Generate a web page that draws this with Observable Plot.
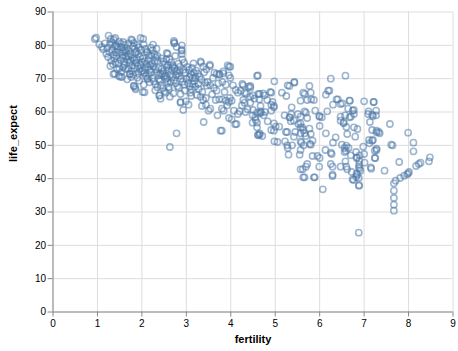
<!DOCTYPE html>
<html>
<head>
<meta charset="utf-8">
<script src="https://cdn.jsdelivr.net/npm/d3@7"></script>
<script src="https://cdn.jsdelivr.net/npm/@observablehq/plot@0.6"></script>
<style>
  html, body { margin: 0; padding: 0; background: #fff; }
  #chart svg { display: block; }
</style>
</head>
<body>
<div id="chart"></div>
<script>
// Axis ticks
const xTicks = [0, 1, 2, 3, 4, 5, 6, 7, 8, 9];
const yTicks = [0, 10, 20, 30, 40, 50, 60, 70, 80, 90];
const xTitle = "fertility";
const yTitle = "life_expect";

// [fertility, life_expect] pairs, grouped by fertility range
const fertilityBelow2 = [
  [0.94,81.9],[1.04,80.3],[0.97,82.3],[1.1,79.5],[1.13,78.8],[1.17,80.6],[1.2,77.5],
  [1.25,82.9],[1.3,81.9],[1.37,81.7],[1.22,79.2],[1.28,80.4],[1.33,78.6],[1.36,77.2],[1.24,76.5],
  [1.31,75.4],[1.39,79.8],[1.35,74.3],[1.29,73.8],[1.39,71.5],[1.36,71.4],[1.27,78.0],[1.38,76.1],
  [1.33,80.9],[1.4,82.2],
  [1.48,81.1],[1.42,80.0],[1.45,78.9],[1.5,77.8],[1.55,79.4],[1.43,76.8],[1.52,75.6],[1.47,74.5],
  [1.58,73.4],[1.44,72.8],[1.48,70.9],[1.55,70.5],[1.51,70.6],[1.57,76.3],[1.59,78.1],[1.41,74.9],
  [1.53,80.5],[1.46,79.6],[1.56,77.0],[1.6,75.1],[1.49,73.1],[1.54,72.0],[1.42,77.9],[1.58,81.0],
  [1.78,81.5],[1.76,81.8],[1.62,80.2],[1.66,79.1],[1.7,78.3],[1.74,77.4],[1.64,76.6],[1.68,75.7],
  [1.72,74.8],[1.78,73.9],[1.63,72.9],[1.73,71.4],[1.76,70.5],[1.67,69.8],[1.8,79.7],[1.71,80.6],
  [1.65,77.9],[1.79,76.2],[1.75,75.3],[1.61,74.1],[1.69,73.0],[1.77,72.3],[1.62,78.6],[1.7,76.9],
  [1.82,80.7],[1.97,82.2],[1.85,67.3],[1.82,67.8],[1.86,66.8],[1.84,79.0],[1.88,78.2],[1.92,77.3],
  [1.96,76.5],[1.83,75.5],[1.87,74.7],[1.91,73.8],[1.95,72.9],[1.99,72.1],[1.81,71.2],[1.9,70.3],
  [1.94,69.4],[1.89,80.1],[1.93,79.4],[1.98,78.6],[1.85,77.7],[1.88,76.0],[1.97,74.1],[1.84,73.2],
  [1.92,71.6],[1.73,71.4],[1.82,67.8]
];

const fertility2to3 = [
  [2.0,75.0],[2.03,81.9],[2.06,65.9],[2.02,66.0],[2.04,80.3],[2.08,78.9],[2.12,77.8],[2.16,76.9],
  [2.02,76.1],[2.06,75.2],[2.1,74.4],[2.14,73.5],[2.18,72.6],[2.05,71.7],[2.09,70.8],[2.13,69.9],
  [2.17,68.9],[2.2,79.3],[2.11,78.1],[2.15,75.6],[2.19,74.2],[2.07,73.0],[2.01,72.4],[2.16,71.2],
  [2.12,70.1],[2.2,77.0],[2.04,68.2],
  [2.24,78.5],[2.28,77.4],[2.32,76.3],[2.36,75.4],[2.22,74.6],[2.26,73.7],[2.3,72.8],[2.34,71.9],
  [2.38,71.0],[2.23,70.1],[2.27,69.2],[2.31,68.3],[2.35,67.4],[2.39,64.9],[2.4,65.0],[2.25,80.2],
  [2.33,79.0],[2.37,73.2],[2.29,75.1],[2.21,72.0],[2.38,69.8],[2.3,66.5],[2.35,76.8],
  [2.42,71.4],[2.56,77.7],[2.58,77.4],[2.54,65.8],[2.42,64.0],[2.44,76.1],[2.48,75.2],[2.52,74.3],
  [2.56,73.4],[2.6,72.5],[2.46,71.6],[2.5,70.7],[2.54,69.8],[2.58,68.9],[2.43,68.0],[2.47,67.1],
  [2.51,66.2],[2.55,75.8],[2.59,74.0],[2.45,73.0],[2.49,72.2],[2.53,71.0],[2.57,70.2],[2.41,69.3],
  [2.6,67.5],
  [2.73,80.8],[2.72,81.3],[2.73,80.6],[2.78,79.5],[2.63,64.6],[2.63,49.5],[2.78,53.6],[2.62,75.9],
  [2.66,74.9],[2.7,74.0],[2.74,73.1],[2.78,72.2],[2.64,71.3],[2.68,70.4],[2.72,69.5],[2.76,68.6],
  [2.8,67.7],[2.61,66.8],[2.69,73.5],[2.77,71.0],[2.65,69.0],[2.71,65.6],[2.75,76.8],[2.67,72.6],
  [2.9,80.0],[2.9,78.6],[2.9,77.4],[2.89,78.4],[2.91,75.8],[2.87,65.4],[2.87,63.0],[2.87,62.8],
  [2.93,60.6],[2.99,63.2],[2.82,74.5],[2.86,73.6],[2.94,72.7],[2.98,71.8],[2.84,70.9],[2.88,70.0],
  [2.92,69.1],[2.96,68.2],[2.83,67.3],[2.97,66.4],[2.85,72.3],[2.95,74.8],[2.81,71.5]
];

const fertility3to5 = [
  [3.05,62.2],[3.09,65.8],[3.11,64.8],[3.14,68.4],[3.17,71.8],[3.2,70.4],[3.2,67.6],[3.02,73.5],
  [3.06,72.6],[3.1,71.3],[3.14,70.2],[3.18,69.3],[3.04,68.6],[3.08,67.7],[3.12,66.8],[3.16,74.6],
  [3.0,69.9],[3.13,73.2],[3.07,70.5],
  [3.32,75.2],[3.38,73.6],[3.32,64.6],[3.38,63.6],[3.44,64.2],[3.35,61.8],[3.44,62.2],[3.39,57.0],
  [3.48,69.0],[3.22,72.4],[3.26,71.5],[3.3,70.6],[3.34,69.7],[3.42,68.8],[3.46,67.9],[3.28,66.9],
  [3.36,66.0],[3.24,65.1],[3.4,71.9],[3.45,72.8],[3.27,68.4],[3.33,74.8],[3.53,74.2],
  [3.53,73.8],[3.54,68.0],[3.54,61.0],[3.5,60.4],[3.68,71.4],[3.74,71.4],[3.83,71.6],[3.68,66.4],
  [3.66,63.6],[3.74,63.8],[3.81,63.8],[3.89,63.4],[3.8,61.0],[3.84,60.4],[3.81,69.0],[3.89,68.2],
  [3.93,74.0],[3.99,73.6],[3.96,71.0],[3.99,70.2],[3.98,64.2],[4.02,63.4],[4.07,60.4],[4.11,66.6],
  [4.16,65.8],[4.16,59.4],[4.2,60.2],[3.96,58.2],[4.02,57.8],[4.13,56.4],[3.77,54.4],[4.1,56.3],
  [3.6,70.2],[3.62,67.2],[3.72,68.6],[3.58,65.3],[3.86,66.0],[4.05,68.0],[3.92,62.0],[3.7,59.0],
  [3.63,71.8],[3.75,71.2],[3.83,72.2],[3.96,73.6],[3.96,63.0],[3.8,54.4],
  [4.26,68.4],[4.4,67.6],[4.44,67.8],[4.28,63.6],[4.31,62.8],[4.44,62.8],[4.64,63.8],[4.33,60.0],
  [4.38,60.8],[4.49,59.0],[4.56,57.6],[4.65,59.6],[4.49,56.8],[4.59,55.4],[4.65,53.6],[4.61,71.0],
  [4.59,70.8],[4.44,67.3],[4.5,65.0],[4.65,65.4],[4.76,65.0],[4.67,61.8],[4.68,59.8],[4.74,59.0],
  [4.55,58.4],[4.59,56.8],[4.62,53.0],[4.71,52.8],[4.35,65.5],[4.25,62.0],
  [4.22,66.4],[4.31,65.8],[4.28,68.0],[4.44,64.6],[4.53,64.0],[4.62,65.4],[4.73,65.6],[4.89,66.0],
  [4.82,63.6],[4.94,63.0],[4.97,61.8],[4.5,60.6],[4.59,59.8],[4.67,60.2],[4.77,60.0],[4.91,60.4],
  [4.61,53.2],[4.65,53.2],[4.97,56.6],[4.91,54.6],[4.98,69.2],[4.91,65.8],[4.91,62.2],[4.97,61.4],
  [4.83,57.2],[4.97,54.4],[4.98,51.2]
];

const fertility5to7 = [
  [5.32,67.8],[5.43,68.8],[5.77,67.8],[5.15,65.8],[5.63,65.8],[5.8,65.8],[6.19,66.4],[6.14,65.2],
  [5.25,64.8],[5.57,63.4],[5.81,63.8],[6.41,63.8],[6.47,62.4],[6.3,62.2],[5.37,61.4],[5.69,59.8],
  [5.9,60.4],[6.17,60.2],[5.36,59.4],[5.33,58.4],[5.99,58.8],[6.05,58.4],[6.47,58.6],[6.54,56.9],
  [5.01,55.6],[5.27,54.0],[5.45,54.0],[5.57,56.6],[5.63,54.6],[5.66,53.6],[6.0,55.8],[6.14,53.6],
  [5.22,51.2],[5.27,50.0],[5.59,50.8],[5.57,48.6],[5.78,50.4],[5.8,50.2],[6.3,50.8],[6.36,52.4],
  [6.5,50.2],[6.56,49.2],[5.3,47.2],[5.55,47.2],[5.84,46.8],[5.95,46.8],[6.0,46.2],[6.25,47.8],
  [5.72,44.4],[5.69,43.6],[5.99,43.6],[6.25,44.4],[5.57,42.8],[5.63,40.4],[5.89,40.4],[6.29,41.2],
  [6.47,43.6],[6.62,42.8],[6.07,36.8],
  [5.43,69.0],[6.25,70.0],[6.58,70.9],[6.22,66.4],[6.67,63.4],[6.38,63.8],[5.87,63.6],[6.0,58.6],
  [6.47,57.4],[6.54,56.6],[6.67,58.4],[6.74,60.4],[6.77,59.4],[5.57,58.6],[5.52,56.4],[5.61,55.4],
  [5.57,53.6],[5.8,53.4],[5.84,51.4],[5.64,50.0],[5.62,42.8],[5.87,40.4],[5.66,40.4],[6.13,48.6],
  [6.27,47.4],[6.29,43.6],[6.29,40.8],[6.59,48.4],[6.65,49.2],[6.7,47.0],[6.83,46.2],[6.89,45.4],
  [6.88,43.4],[6.92,42.4],[6.88,40.2],[6.89,38.0],[6.74,39.8],[6.85,41.2],
  [5.09,55.6],[5.21,59.0],[5.32,58.4],[5.35,57.2],[5.42,57.4],[5.51,59.4],[5.72,58.2],[5.66,60.2],
  [5.77,55.0],[5.69,52.8],[5.24,54.0],[5.42,52.6],[5.57,55.4],[5.05,51.0],[5.28,49.2],[5.38,50.0],
  [5.57,51.2],[5.28,68.0],[5.66,65.4],[5.72,63.6],
  [6.68,63.4],[6.51,62.6],[6.64,61.0],[6.77,60.6],[6.57,59.0],[6.7,58.6],[6.6,55.5],[6.77,55.4],
  [6.85,54.9],[6.62,53.4],[6.8,52.6],[6.6,49.9],[6.98,49.6],[6.56,48.0],[6.82,48.0],[7.0,47.4],
  [6.9,47.0],[6.84,46.4],[6.58,45.2],[6.6,43.6],[6.89,44.2],[6.9,43.0],[6.72,42.0],[6.83,41.5],
  [6.82,40.5],[6.76,39.6],[6.88,37.9],[6.88,23.8]
];

const fertilityAbove7 = [
  [7.0,63.2],[7.21,63.0],[7.22,63.0],[7.1,60.2],[7.18,59.2],[7.27,59.0],[7.13,57.0],[7.58,56.4],
  [7.18,54.6],[7.28,53.9],[7.35,53.6],[7.99,53.8],[7.11,51.6],[7.2,51.6],[8.11,50.8],[7.61,50.2],
  [7.28,48.6],[8.11,48.2],[7.24,46.2],[8.48,46.4],[8.46,45.2],[8.27,44.8],[8.23,44.4],[8.17,43.8],
  [7.79,45.0],[7.16,43.0],[7.46,42.4],[8.01,42.0],[7.99,41.6],[7.97,41.3],[7.9,40.9],[7.81,40.2],
  [7.71,39.4],[7.67,38.6],[7.67,36.4],[7.67,34.2],[7.67,32.2],[7.67,30.4],
  [7.09,59.4],[7.2,58.8],[7.64,50.0],[7.01,44.8],[7.15,43.4],[7.25,46.2],[7.28,49.0],[7.24,48.4],
  [7.18,51.4],[7.12,50.6],[7.28,54.4],[7.33,54.0],[7.27,60.4]
];

const groups = [fertilityBelow2, fertility2to3, fertility3to5, fertility5to7, fertilityAbove7];
const data = groups.flatMap(g => g.map(([fertility, life_expect]) => ({fertility, life_expect})));

const font = "'Liberation Sans', Arial, Helvetica, sans-serif";

const chart = Plot.plot({
  width: 458,
  height: 351,
  marginLeft: 52.5,
  marginRight: 5.5,
  marginTop: 11.5,
  marginBottom: 39.5,
  style: {fontFamily: font, fontSize: "10px", background: "#fff", color: "#000"},
  x: {domain: [0, 9]},
  y: {domain: [0, 90]},
  marks: [
    Plot.gridX(xTicks, {stroke: "#ddd", strokeOpacity: 1, strokeWidth: 1}),
    Plot.gridY(yTicks, {stroke: "#ddd", strokeOpacity: 1, strokeWidth: 1}),
    Plot.ruleY([0], {stroke: "#888", strokeWidth: 1}),
    Plot.ruleX([0], {stroke: "#888", strokeWidth: 1}),
    Plot.axisX(xTicks, {tickSize: 5, tickPadding: 3, stroke: "#888", fill: "#000", label: null, fontSize: 10}),
    Plot.axisY(yTicks, {tickSize: 5, tickPadding: 2, stroke: "#888", fill: "#000", label: null, fontSize: 10}),
    Plot.dot(data, {
      x: "fertility", y: "life_expect",
      r: 3.1, fill: "none", stroke: "#4c78a8", strokeWidth: 1.6, strokeOpacity: 0.55
    }),
    Plot.text([xTitle], {frameAnchor: "bottom", dy: 31, fontWeight: "bold", fontSize: 11, fill: "#000"}),
    Plot.text([yTitle], {frameAnchor: "left", dx: -40, rotate: -90, fontWeight: "bold", fontSize: 11, fill: "#000"})
  ]
});
document.getElementById("chart").appendChild(chart);
</script>
</body>
</html>
